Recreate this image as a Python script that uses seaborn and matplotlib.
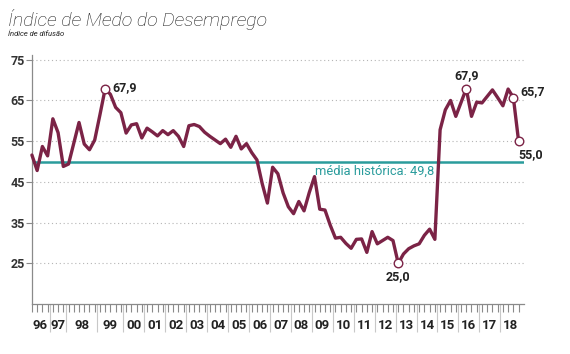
import numpy as np
import pandas as pd
import matplotlib
matplotlib.use('Agg')
import matplotlib.pyplot as plt
import matplotlib.transforms as mtransforms
import seaborn as sns

# ==========================================
# DATA
# ==========================================
year_labels = ['96', '97', '98', '99', '00', '01', '02', '03', '04', '05', '06', '07',
               '08', '09', '10', '11', '12', '13', '14', '15', '16', '17', '18']
points_per_year = [4, 3, 6, 5] + [4] * 19

values = [51.6, 47.8, 53.7, 51.4,                    # 96
          60.5, 57.1, 48.8,                          # 97
          49.4, 54.5, 59.6, 54.3, 52.9, 55.3,        # 98
          61.5, 67.9, 66.5, 63.3, 62.0,              # 99
          57.0, 59.0, 59.3, 55.8,                    # 00
          58.2, 57.3, 56.3, 57.6,                    # 01
          56.6, 57.6, 56.2, 53.7,                    # 02
          58.8, 59.1, 58.6, 57.2,                    # 03
          56.2, 55.3, 54.4, 55.5,                    # 04
          53.5, 56.2, 53.1, 54.4,                    # 05
          52.2, 50.4, 44.6, 39.8,                    # 06
          48.6, 47.0, 42.3, 38.9,                    # 07
          37.2, 40.2, 37.9, 42.4,                    # 08
          46.3, 38.3, 38.1, 34.4,                    # 09
          31.2, 31.4, 29.9, 28.7,                    # 10
          30.9, 31.0, 27.7, 32.8,                    # 11
          29.8, 30.6, 31.4, 30.6,                    # 12
          25.0, 27.3, 28.6, 29.3,                    # 13
          29.8, 31.9, 33.4, 30.9,                    # 14
          57.8, 62.7, 65.0, 61.1,                    # 15
          64.5, 67.9, 61.1, 64.6,                    # 16
          64.4, 66.0, 67.6, 65.7,                    # 17
          63.7, 67.8, 65.7, 55.0]                    # 18

media_historica = 49.8
highlight_idx = [14, 70, 83, 92, 93]
highlight_offsets = [(5, 1, 'left', 'center'), (0, -5, 'center', 'top'),
                     (0, 5, 'center', 'bottom'), (5, 4, 'left', 'center'),
                     (0, -5, 'left', 'top')]
y_ticks = [25, 35, 45, 55, 65, 75]

point_years = np.repeat(year_labels, points_per_year)
df = pd.DataFrame({'idx': np.arange(len(values)), 'ano': point_years, 'valor': values})

# ==========================================
# STYLE
# ==========================================
sns.set_theme(style="white")
narrow = ['Liberation Sans Narrow', 'Roboto', 'DejaVu Sans']
plt.rcParams['font.family'] = ['Roboto', 'DejaVu Sans']

wine = '#7b2346'
teal = '#2a9c9c'
grey = '#8a8a8a'

fig = plt.figure(figsize=(5.7, 3.54), dpi=100)
ax = fig.add_axes([0.056, 0.141, 0.863, 0.704])

# historical average
ax.axhline(media_historica, color=teal, lw=1.8, zorder=2)
ax.text(df['idx'][54], media_historica - 0.6, 'média histórica: ' + f"{media_historica:.1f}".replace('.', ','),
        color=teal, fontsize=9.3, ha='left', va='top')

# main series
sns.lineplot(data=df, x='idx', y='valor', ax=ax, color=wine, lw=2.4, zorder=3)
ax.lines[-1].set_clip_on(False)

# highlighted points
hl = df.loc[highlight_idx]
ax.scatter(hl['idx'], hl['valor'], s=38, facecolor='white', edgecolor=wine, lw=1.0, zorder=4, clip_on=False)
for (i, v), (dx, dy, ha, va) in zip(zip(hl['idx'], hl['valor']), highlight_offsets):
    ax.annotate(f"{v:.1f}".replace('.', ','), (i, v), xytext=(dx, dy), textcoords='offset points',
                ha=ha, va=va, fontsize=9, fontweight='bold', family=narrow, color='#222222')

# axes limits
ax.set_xlim(0, len(values))
ax.set_ylim(15, 76.2)

# y axis
ax.set_yticks(y_ticks)
ax.set_yticklabels([str(t) for t in y_ticks], fontsize=9, fontweight='bold', family=narrow, color='#333333')
ax.tick_params(axis='y', length=4, width=0.8, color=grey, pad=1, left=True)
ax.yaxis.grid(True, ls=(0, (1, 2.5)), color='#b5b5b5', lw=0.8)
ax.xaxis.grid(False)

# x axis: small tick per survey, long divider per year, year label centred
bounds = np.cumsum([0] + points_per_year)
ax.set_xticks(bounds[1:-1] - 0.5)
ax.set_xticklabels([])
ax.tick_params(axis='x', which='major', length=20, width=0.8, color='#c8c8c8', bottom=True)
ax.set_xticks(df['idx'], minor=True)
ax.tick_params(axis='x', which='minor', length=6, width=0.8, color=grey, bottom=True)
trans = mtransforms.blended_transform_factory(ax.transData, ax.transAxes)
for lab, a, b in zip(year_labels, bounds[:-1], bounds[1:]):
    ax.text((a + b - 1) / 2, -0.085, lab, transform=trans, ha='center', va='center',
            fontsize=9.5, fontweight='bold', family=narrow, color='#222222')

ax.set_xlabel('')
ax.set_ylabel('')
for s in ['top', 'right']:
    ax.spines[s].set_visible(False)
for s in ['left', 'bottom']:
    ax.spines[s].set_color(grey)
    ax.spines[s].set_linewidth(0.9)

# titles
fig.text(0.014, 0.945, 'Índice de Medo do Desemprego', fontsize=14, style='italic',
         fontweight='light', color='#1a1a1a', ha='left', va='center')
fig.text(0.014, 0.905, 'Índice de difusão', fontsize=5.5, style='italic', color='#222222',
         ha='left', va='center')

plt.savefig('out.png', dpi=100)
